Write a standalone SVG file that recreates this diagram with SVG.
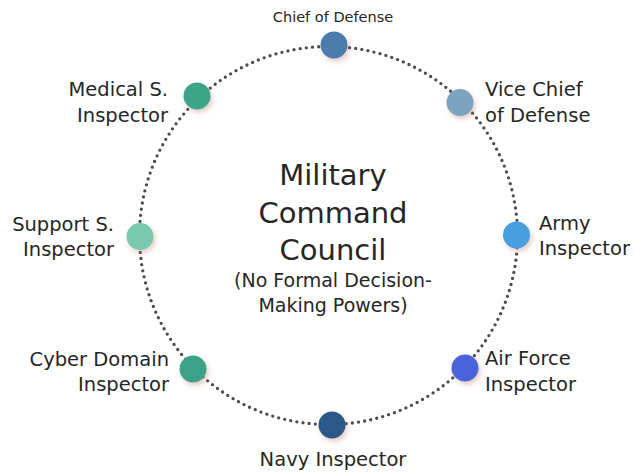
<svg xmlns="http://www.w3.org/2000/svg" width="635" height="472" viewBox="0 0 635 472">
<style>
text{font-family:"DejaVu Sans","Liberation Sans",sans-serif;fill:#262626}
.lbl{font-size:19.5px}
.title{font-size:29px;text-anchor:middle}
.sub{font-size:19px;text-anchor:middle}
.ring{fill:none;stroke:#4a4a4a;stroke-width:3.3;stroke-linecap:round;stroke-dasharray:0 6.2}
.node{filter:url(#sh)}
</style>
<defs>
<filter id="sh" x="-60%" y="-60%" width="220%" height="220%">
<feDropShadow dx="2" dy="3" stdDeviation="2.5" flood-color="#b07060" flood-opacity="0.35"/>
</filter>
</defs>
<rect width="635" height="472" fill="#fff"/>
<g id="connectors">
<circle class="ring" cx="328.5" cy="235.5" r="189"/>
</g>
<g id="center">
<text class="title" x="333" y="185">Military</text>
<text class="title" x="333" y="223">Command</text>
<text class="title" x="333" y="260">Council</text>
<text class="sub" x="333" y="287">(No Formal Decision-</text>
<text class="sub" x="333" y="312">Making Powers)</text>
</g>
<g id="chief">
<circle class="node" cx="334" cy="45" r="13.5" fill="#4a7bab"/>
<text x="333" y="21.5" font-size="14.5" text-anchor="middle">Chief of Defense</text>
</g>
<g id="vice">
<circle class="node" cx="460" cy="102.5" r="13.5" fill="#7ba3c0"/>
<text class="lbl" x="485" y="96">Vice Chief</text>
<text class="lbl" x="485" y="121.5">of Defense</text>
</g>
<g id="army">
<circle class="node" cx="516.5" cy="235" r="13.5" fill="#4a9ee0"/>
<text class="lbl" x="539" y="229.5">Army</text>
<text class="lbl" x="539" y="255">Inspector</text>
</g>
<g id="airforce">
<circle class="node" cx="465" cy="368" r="13.5" fill="#4a64d8"/>
<text class="lbl" x="485" y="365">Air Force</text>
<text class="lbl" x="485" y="390.5">Inspector</text>
</g>
<g id="navy">
<circle class="node" cx="332" cy="425" r="13.5" fill="#2b5988"/>
<text class="lbl" x="333" y="466" text-anchor="middle">Navy Inspector</text>
</g>
<g id="cyber">
<circle class="node" cx="193" cy="369" r="13.5" fill="#3ea388"/>
<text class="lbl" x="169" y="366" text-anchor="end">Cyber Domain</text>
<text class="lbl" x="169" y="391" text-anchor="end">Inspector</text>
</g>
<g id="support">
<circle class="node" cx="140" cy="236.5" r="13.5" fill="#78c9ae"/>
<text class="lbl" x="114" y="230.5" text-anchor="end">Support S.</text>
<text class="lbl" x="114" y="255.5" text-anchor="end">Inspector</text>
</g>
<g id="medical">
<circle class="node" cx="197" cy="96" r="13.5" fill="#3aa586"/>
<text class="lbl" x="168" y="96" text-anchor="end">Medical S.</text>
<text class="lbl" x="168" y="121.5" text-anchor="end">Inspector</text>
</g>
</svg>
